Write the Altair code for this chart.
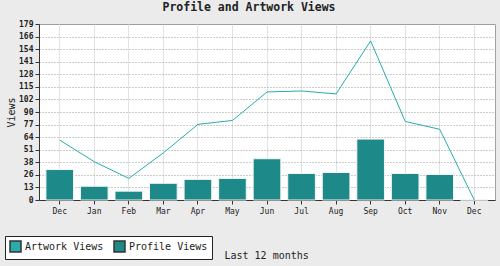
import altair as alt
import pandas as pd

months = ["Dec", "Jan", "Feb", "Mar", "Apr", "May", "Jun", "Jul", "Aug", "Sep", "Oct", "Nov", "Dec"]
profile_views = [31, 14, 9, 17, 21, 22, 42, 27, 28, 62, 27, 26, 0]
artwork_views = [61, 39, 22, 48, 77, 81, 110, 111, 108, 162, 80, 72, 0]
series_names = ["Artwork Views", "Profile Views"]
series_colors = ["#2aacac", "#1d8989"]
y_step = 12.8
n_steps = 14

df = pd.DataFrame({
    "idx": list(range(len(months))),
    "profile": profile_views,
    "artwork": artwork_views,
})
leg_df = pd.DataFrame({"series": series_names})

FONT = "DejaVu Sans Mono"
label_expr = "[" + ",".join("'%s'" % m for m in months) + "][datum.value]"
y_ticks = [round(y_step * i, 4) for i in range(n_steps + 1)]
y_top = y_ticks[-1]

x_enc = alt.X(
    "idx:O",
    scale=alt.Scale(paddingInner=0.2, paddingOuter=0.2),
    axis=alt.Axis(
        labelExpr=label_expr, labelAngle=0, bandPosition=0.5,
        title="Last 12 months", titleX=185, titleY=58, titleAlign="left",
        titleBaseline="alphabetic", titleFont=FONT, titleFontSize=10,
        titleFontWeight="normal", titleColor="#222",
        labelFont=FONT, labelFontSize=8, labelColor="#222", labelPadding=3,
        tickSize=4, tickColor="#333", domainColor="#333",
        grid=True, gridColor="#e2e2e2", gridWidth=1,
    ),
)
y_scale = alt.Scale(domain=[0, y_top], nice=False)
y_enc = alt.Y(
    "profile:Q", scale=y_scale,
    axis=alt.Axis(
        values=y_ticks, labelExpr="round(datum.value)", title="Views",
        labelOverlap=False, tickCount=15,
        titleFont=FONT, titleFontSize=10, titleFontWeight="normal", titleColor="#222",
        titlePadding=2,
        labelFont=FONT, labelFontSize=8, labelFontWeight="bold", labelColor="#222",
        tickSize=4, tickColor="#333", domainColor="#333",
        grid=True, gridColor="#999", gridDash=[1, 2], gridWidth=1,
    ),
)

bars = alt.Chart(df).mark_bar(color=series_colors[1], stroke="#f4f4f4", strokeWidth=1).encode(
    x=x_enc, y=y_enc
)
line = alt.Chart(df).mark_line(color=series_colors[0], strokeWidth=1).encode(
    x=alt.X("idx:O", bandPosition=0.5),
    y=alt.Y("artwork:Q", scale=y_scale),
)
legend_layer = alt.Chart(leg_df).mark_square(opacity=0).encode(
    x=alt.value(0), y=alt.value(0),
    color=alt.Color(
        "series:N",
        scale=alt.Scale(domain=series_names, range=series_colors),
        legend=alt.Legend(
            title=None, orient="none", legendX=-34, legendY=212,
            direction="horizontal", fillColor="white", strokeColor="#222",
            padding=4, symbolType="square", symbolSize=121, symbolOpacity=1,
            symbolStrokeColor="#333", symbolStrokeWidth=1.5,
            labelFont=FONT, labelFontSize=10, labelColor="#222", columnPadding=7,
            labelOffset=3,
        ),
    ),
)

chart = alt.layer(bars, line, legend_layer).properties(
    width=456, height=176,
    autosize=alt.AutoSizeParams(type="none"),
    padding={"left": 39, "top": 24, "right": 5, "bottom": 66},
    background="#ebebeb",
    title=alt.Title("Profile and Artwork Views", font=FONT, fontSize=11.5, fontWeight="bold",
                    color="#222", anchor="middle", dx=-18, offset=7),
).configure_view(fill="white", stroke="#a0a0a0", strokeWidth=1)

chart.save("out.html", embed_options={"renderer": "svg", "actions": False})
